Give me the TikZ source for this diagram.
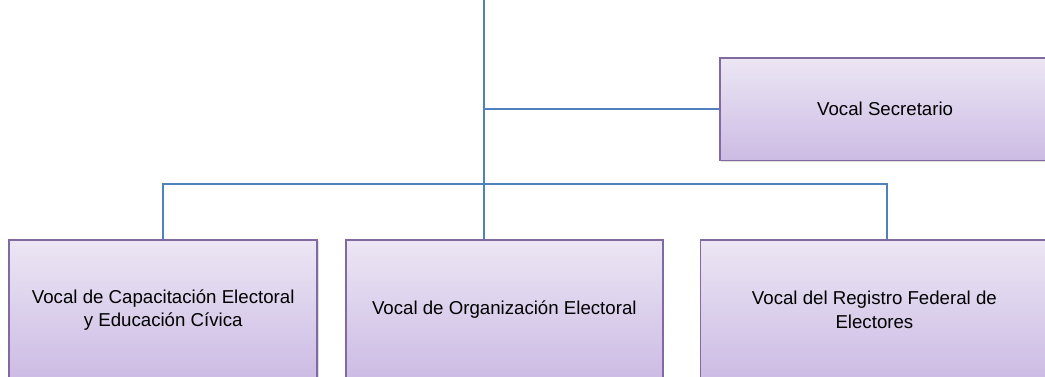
\documentclass[tikz,border=0pt]{standalone}
\usepackage{fontspec}
\setmainfont{Liberation Sans}
\usepackage{tikz}
\usetikzlibrary{positioning, shadows}
\usepackage{xcolor}
\definecolor{link}{RGB}{79,129,189}
\definecolor{frame}{RGB}{128,106,160}
\definecolor{lilatop}{RGB}{236,230,244}
\definecolor{lilabot}{RGB}{204,187,228}

\begin{document}
\begin{tikzpicture}[
  x=0.75pt, y=-0.75pt,
  box/.style={rectangle, draw=frame, line width=1.2pt, top color=lilatop,
    bottom color=lilabot, align=center, minimum height=105pt,
    font=\fontsize{14}{17.5}\selectfont,
    drop shadow={shadow xshift=1.2pt, shadow yshift=-1.2pt, opacity=0.25}},
  line/.style={draw=link, line width=1.4pt},
  node distance=0.9cm and 20.25pt
]
\clip (0,0) rectangle (1045,377);
\useasboundingbox (0,0) rectangle (1045,377);

% Top of the trunk
\coordinate (top) at (484,0);

% Secretario
\node[box, anchor=north west, minimum width=248pt, minimum height=77pt] (sec) at (719,57)
  {Vocal Secretario};

% Bottom row
\node[box, anchor=north west, minimum width=237.75pt] (org) at (345,239)
  {Vocal de Organización Electoral};
\node[box, minimum width=231pt, left=20.25pt of org] (cap)
  {Vocal de Capacitación Electoral\\y Educación Cívica};
\node[box, minimum width=261pt, right=27pt of org] (reg)
  {Vocal del Registro Federal de\\Electores};

% Bus
\coordinate (bus) at (484,184);
\coordinate (regtap) at (887,184);

% Connectors
\draw[line] (top) -- (top |- org.north);
\draw[line] (top |- sec.west) -- (sec.west);
\draw[line] (cap.north) -- (cap.north |- bus) -- (regtap) -- (regtap |- reg.north);

\end{tikzpicture}
\end{document}
